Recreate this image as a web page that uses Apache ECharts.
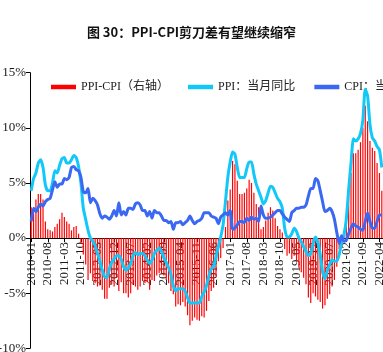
<!DOCTYPE html>
<html>
<head>
<meta charset="utf-8">
<script src="https://cdn.jsdelivr.net/npm/echarts@6/dist/echarts.min.js"></script>
<style>
  html, body { margin: 0; padding: 0; background: #fff; }
  #chart { width: 383px; height: 352px; }
</style>
</head>
<body>
<div id="chart"></div>
<script>
// 2010-01 .. 2022-05, monthly
const months = []
for (let y = 2010; y <= 2022; y++) {
  for (let m = 1; m <= 12; m++) {
    if (y === 2022 && m > 5) break
    months.push(y + '-' + (m < 10 ? '0' + m : m))
  }
}

// PPI：当月同比 (%)
const ppi = [
  4.3, 5.4, 5.9, 6.8, 7.1, 6.4, 4.8, 4.3, 4.3, 5.0, 6.1, 5.9,
  6.6, 7.2, 7.3, 6.8, 6.8, 7.1, 7.5, 7.3, 6.5, 5.0, 2.7, 1.7,
  0.7, 0.0, -0.3, -0.7, -1.4, -2.1, -2.9, -3.5, -3.6, -2.8, -2.2, -1.9,
  -1.6, -1.6, -1.9, -2.6, -2.9, -2.7, -2.3, -1.6, -1.3, -1.5, -1.4, -1.4,
  -1.6, -2.0, -2.3, -2.0, -1.4, -1.1, -0.9, -1.2, -1.8, -2.2, -2.7, -3.3,
  -4.3, -4.8, -4.6, -4.6, -4.6, -4.8, -5.4, -5.9, -5.9, -5.9, -5.9, -5.9,
  -5.3, -4.9, -4.3, -3.4, -2.8, -2.6, -1.7, -0.8, 0.1, 1.2, 3.3, 5.5,
  6.9, 7.8, 7.6, 6.4, 5.5, 5.5, 5.5, 6.3, 6.9, 6.9, 5.8, 4.9,
  4.3, 3.7, 3.1, 3.4, 4.1, 4.7, 4.6, 4.1, 3.6, 3.3, 2.7, 0.9,
  0.1, 0.1, 0.4, 0.9, 0.6, 0.0, -0.3, -0.8, -1.2, -1.6, -1.4, -0.5,
  0.1, -0.4, -1.5, -3.1, -3.7, -3.0, -2.4, -2.0, -2.1, -2.1, -1.5, -0.4,
  0.3, 1.7, 4.4, 6.8, 9.0, 8.8, 9.0, 9.5, 10.7, 13.5, 12.9, 10.3,
  9.1, 8.8, 8.3, 8.0, 6.4
]

// CPI：当月同比 (%)
const cpi = [
  1.5, 2.7, 2.4, 2.8, 3.1, 2.9, 3.3, 3.5, 3.6, 4.4, 5.1, 4.6,
  4.9, 4.9, 5.4, 5.3, 5.5, 6.4, 6.5, 6.2, 6.1, 5.5, 4.2, 4.1,
  4.5, 3.2, 3.6, 3.4, 3.0, 2.2, 1.8, 2.0, 1.9, 1.7, 2.0, 2.5,
  2.0, 3.2, 2.1, 2.4, 2.1, 2.7, 2.7, 2.6, 3.1, 3.2, 3.0, 2.5,
  2.5, 2.0, 2.4, 1.8, 2.5, 2.3, 2.3, 2.0, 1.6, 1.6, 1.4, 1.5,
  0.8, 1.4, 1.4, 1.5, 1.2, 1.4, 1.6, 2.0, 1.6, 1.3, 1.5, 1.6,
  1.8, 2.3, 2.3, 2.3, 2.0, 1.9, 1.8, 1.3, 1.9, 2.1, 2.3, 2.1,
  2.5, 0.8, 0.9, 1.2, 1.5, 1.5, 1.4, 1.8, 1.6, 1.9, 1.7, 1.8,
  1.5, 2.9, 2.1, 1.8, 1.8, 1.9, 2.1, 2.3, 2.5, 2.5, 2.2, 1.9,
  1.7, 1.5, 2.3, 2.5, 2.7, 2.7, 2.8, 2.8, 3.0, 3.8, 4.5, 4.5,
  5.4, 5.2, 4.3, 3.3, 2.4, 2.5, 2.7, 2.4, 1.7, 0.5, -0.5, 0.2,
  -0.3, -0.2, 0.4, 0.9, 1.3, 1.1, 1.0, 0.8, 0.7, 1.5, 2.3, 1.5,
  0.9, 0.9, 1.5, 2.1, 2.1
]

// PPI-CPI（右轴）
const spread = [
  2.8, 2.7, 3.5, 4.0, 4.0, 3.5, 1.5, 0.8, 0.7, 0.6, 1.0, 1.3,
  1.7, 2.3, 1.9, 1.5, 1.3, 0.7, 1.0, 1.1, 0.4, -0.5, -1.5, -2.4,
  -3.8, -3.2, -3.9, -4.1, -4.4, -4.3, -4.7, -5.5, -5.5, -4.5, -4.2, -4.4,
  -3.6, -4.8, -4.0, -5.0, -5.0, -5.4, -5.0, -4.2, -4.4, -4.7, -4.4, -3.9,
  -4.1, -4.0, -4.7, -3.8, -3.9, -3.4, -3.2, -3.2, -3.4, -3.8, -4.1, -4.8,
  -5.1, -6.2, -6.0, -6.1, -5.8, -6.2, -7.0, -7.9, -7.5, -7.2, -7.4, -7.5,
  -7.1, -7.2, -6.6, -5.7, -4.8, -4.5, -3.5, -2.1, -1.8, -0.9, 1.0, 3.4,
  4.4, 7.0, 6.7, 5.2, 4.0, 4.0, 4.1, 4.5, 5.3, 5.0, 4.1, 3.1,
  2.8, 0.8, 1.0, 1.6, 2.3, 2.8, 2.5, 1.8, 1.1, 0.8, 0.5, -1.0,
  -1.6, -1.4, -1.9, -1.6, -2.1, -2.7, -3.1, -3.6, -4.2, -5.4, -5.9, -5.0,
  -5.3, -5.6, -5.8, -6.4, -6.1, -5.5, -5.1, -4.4, -3.8, -2.6, -1.0, -0.6,
  0.6, 1.9, 4.0, 5.9, 7.7, 7.7, 8.0, 8.7, 10.0, 12.0, 10.6, 8.8,
  8.2, 7.9, 6.8, 5.9, 4.3
]

const serif = "'Liberation Serif', 'Times New Roman', 'Noto Sans CJK SC', serif"

const gridTop = 72.7
const gridBottom = 3.7
const yMin = -10
const yMax = 15
// move the category axis (line, ticks, labels) up onto the 0% line
const plotH = 352 - gridTop - gridBottom
const zeroOffset = -plotH * (0 - yMin) / (yMax - yMin)

const chart = echarts.init(document.getElementById('chart'), null, { renderer: 'canvas' })
chart.setOption({
  animation: false,
  backgroundColor: '#fff',
  title: {
    text: '图 30：PPI-CPI剪刀差有望继续缩窄',
    left: 'center',
    top: 21,
    textStyle: { fontSize: 13, fontWeight: 'bold', color: '#111', fontFamily: 'Noto Sans CJK SC' }
  },
  legend: {
    left: 46,
    top: 76,
    width: 1000,
    itemWidth: 25,
    itemHeight: 4.5,
    itemGap: 19,
    textStyle: { fontSize: 12, color: '#222', fontFamily: serif },
    data: [
      { name: 'PPI-CPI（右轴）', icon: 'rect' },
      { name: 'PPI：当月同比', icon: 'rect' },
      { name: 'CPI：当月同比', icon: 'rect' }
    ]
  },
  grid: { left: 30, right: 0, top: gridTop, bottom: gridBottom, outerBoundsMode: 'none' },
  xAxis: {
    type: 'category',
    data: months,
    boundaryGap: true,
    offset: zeroOffset,
    z: 0,
    axisLine: { onZero: false, lineStyle: { color: '#000', width: 1 } },
    axisTick: { show: true, interval: 6, alignWithLabel: true, length: 4, lineStyle: { color: '#000' } },
    axisLabel: { interval: 6, rotate: 90, margin: 4, fontSize: 13, color: '#1a1a1a', fontFamily: serif },
    splitLine: { show: false }
  },
  yAxis: [
    {
      type: 'value',
      min: yMin, max: yMax, interval: 5,
      axisLine: { show: true, lineStyle: { color: '#000', width: 1 } },
      axisTick: { show: true, length: 4, lineStyle: { color: '#000' } },
      axisLabel: { formatter: '{value}%', margin: 4, fontSize: 13, color: '#1a1a1a', fontFamily: serif },
      splitLine: { show: false }
    },
    {
      type: 'value',
      min: yMin, max: yMax, interval: 5,
      show: false,
      splitLine: { show: false }
    }
  ],
  series: [
    {
      name: 'PPI-CPI（右轴）',
      type: 'bar',
      yAxisIndex: 1,
      z: 3,
      data: spread,
      barWidth: '50%',
      itemStyle: { color: '#ff0000' }
    },
    {
      name: 'PPI：当月同比',
      type: 'line',
      z: 4,
      data: ppi,
      symbol: 'none',
      smooth: 0.2,
      lineStyle: { color: '#12c8f8', width: 3 },
      itemStyle: { color: '#12c8f8' }
    },
    {
      name: 'CPI：当月同比',
      type: 'line',
      z: 5,
      data: cpi,
      symbol: 'none',
      smooth: 0.2,
      lineStyle: { color: '#3a68f2', width: 3 },
      itemStyle: { color: '#3a68f2' }
    }
  ]
})
</script>
</body>
</html>
